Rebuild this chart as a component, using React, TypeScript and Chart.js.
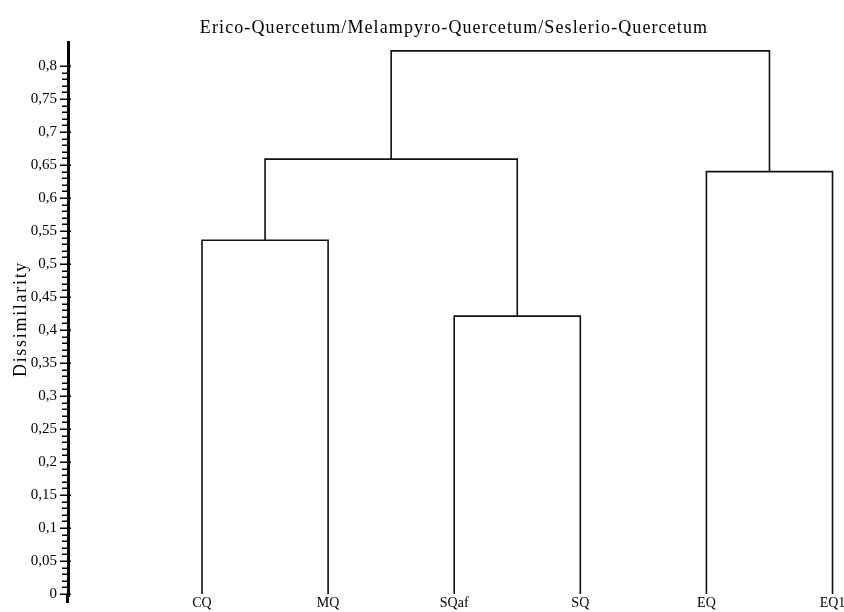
import React, { useEffect, useRef } from "react";
import { Chart, registerables } from "chart.js";

Chart.register(...registerables);

// ---- data ----
const chartTitle = "Erico-Quercetum/Melampyro-Quercetum/Seslerio-Quercetum";
const yAxisTitle = "Dissimilarity";
const leaves = ["CQ", "MQ", "SQaf", "SQ", "EQ", "EQ1"];
// merges: node ids 0..5 are leaves, merge k creates node 6+k
const mergeLeft = [0, 2, 6, 4, 8];
const mergeRight = [1, 3, 7, 5, 9];
const mergeHeight = [0.536, 0.421, 0.659, 0.64, 0.823];
const yMajorTicks = [0, 0.05, 0.1, 0.15, 0.2, 0.25, 0.3, 0.35, 0.4, 0.45, 0.5, 0.55, 0.6, 0.65, 0.7, 0.75, 0.8];
const yMinorStep = 0.01;

const FONT = "'Liberation Serif', 'Times New Roman', serif";

function buildDatasets() {
  const nodeX: number[] = leaves.map((_, i) => i);
  const nodeH: number[] = leaves.map(() => 0);
  const sets: any[] = [];
  mergeLeft.forEach((l, k) => {
    const r = mergeRight[k];
    const h = mergeHeight[k];
    sets.push({
      data: [
        { x: nodeX[l], y: nodeH[l] },
        { x: nodeX[l], y: h },
        { x: nodeX[r], y: h },
        { x: nodeX[r], y: nodeH[r] },
      ],
      borderColor: "#111",
      borderWidth: 1.6,
      pointRadius: 0,
      fill: false,
      tension: 0,
    });
    nodeX.push((nodeX[l] + nodeX[r]) / 2);
    nodeH.push(h);
  });
  return sets;
}

// minor/major tick marks on the y axis + axis extension below zero
const tickPlugin = {
  id: "yTickMarks",
  afterDraw(chart: any) {
    const y = chart.scales.y;
    const ctx = chart.ctx;
    const x0 = chart.chartArea.left;
    const maxV = yMajorTicks[yMajorTicks.length - 1];
    const n = Math.round(maxV / yMinorStep);
    ctx.save();
    ctx.strokeStyle = "#000";
    ctx.lineWidth = 1.5;
    ctx.beginPath();
    for (let k = 0; k <= n; k++) {
      const v = k * yMinorStep;
      const py = Math.round(y.getPixelForValue(v)) + 0.25;
      const major = yMajorTicks.some((t) => Math.abs(t - v) < 1e-6);
      ctx.moveTo(major ? x0 - 8 : x0 - 6, py);
      ctx.lineTo(major ? x0 + 3 : x0, py);
    }
    ctx.stroke();
    // axis line continues a little below the plot area
    ctx.lineWidth = 3;
    ctx.beginPath();
    ctx.moveTo(x0 - 0.5, chart.chartArea.bottom - 1);
    ctx.lineTo(x0 - 0.5, chart.chartArea.bottom + 7);
    ctx.stroke();
    ctx.restore();
  },
};

// slightly wider letter spacing for the chart title and the axis title
const spacingPlugin = {
  id: "titleSpacing",
  beforeDraw(chart: any) {
    const tb = chart.titleBlock;
    if (tb && !tb.__spaced) {
      const orig = tb.draw.bind(tb);
      tb.draw = (...args: any[]) => {
        const c = chart.ctx;
        c.save();
        c.letterSpacing = "1.1px";
        orig(...args);
        c.letterSpacing = "0px";
        c.restore();
      };
      tb.__spaced = true;
    }
    const ys = chart.scales.y;
    if (ys && !ys.__spaced) {
      const orig = ys.drawTitle.bind(ys);
      ys.drawTitle = (...args: any[]) => {
        const c = chart.ctx;
        c.save();
        c.letterSpacing = "1.7px";
        orig(...args);
        c.letterSpacing = "0px";
        c.restore();
      };
      ys.__spaced = true;
    }
  },
};

export default function App() {
  const ref = useRef<HTMLCanvasElement>(null);
  useEffect(() => {
    if (!ref.current) return;
    Chart.defaults.font.family = FONT;
    Chart.defaults.color = "#000";
    const chart = new Chart(ref.current, {
      type: "line",
      data: { datasets: buildDatasets() },
      options: {
        animation: false,
        responsive: false,
        devicePixelRatio: 1,
        layout: { padding: { left: 8, right: 4, top: 0, bottom: 0 } },
        plugins: {
          legend: { display: false },
          tooltip: { enabled: false },
          title: {
            display: true,
            text: chartTitle,
            fullSize: false,
            color: "#000",
            font: { size: 18, weight: "normal", family: FONT },
            padding: { top: 17, bottom: 3.4 },
          },
        },
        scales: {
          x: {
            type: "linear",
            min: -1.0626,
            max: 5.059,
            grid: { display: false, drawTicks: false },
            border: { display: false },
            afterBuildTicks: (scale: any) => {
              scale.ticks = leaves.map((_, i) => ({ value: i }));
            },
            afterFit: (scale: any) => {
              scale.height = 16;
            },
            ticks: {
              autoSkip: false,
              maxRotation: 0,
              padding: -1.4,
              font: { size: 14, family: FONT },
              color: "#000",
              callback: (v: any) => leaves[v] ?? "",
            },
          },
          y: {
            type: "linear",
            min: -0.003,
            max: 0.8364,
            afterBuildTicks: (scale: any) => {
              scale.ticks = yMajorTicks.map((v) => ({ value: v }));
            },
            afterFit: (scale: any) => {
              scale.width = 60;
            },
            grid: { display: true, drawOnChartArea: false, drawTicks: true, tickLength: 8, tickColor: "transparent" },
            border: { display: true, width: 3, color: "#000" },
            ticks: {
              padding: 3,
              font: { size: 15, family: FONT },
              color: "#000",
              callback: (v: any) => String(Math.round(Number(v) * 100) / 100).replace(".", ","),
            },
            title: {
              display: true,
              text: yAxisTitle,
              color: "#000",
              font: { size: 18, family: FONT },
              padding: { top: 2.5, bottom: 0 },
            },
          },
        },
      },
      plugins: [spacingPlugin, tickPlugin],
    });
    return () => chart.destroy();
  }, []);
  return (
    <div style={{ position: "absolute", left: 0, top: 0, width: 844, height: 612 }}>
      <canvas ref={ref} width={844} height={612} />
    </div>
  );
}
